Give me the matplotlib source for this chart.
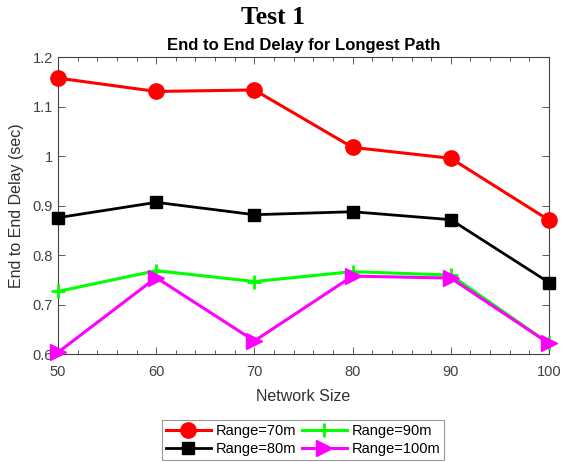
import matplotlib
matplotlib.use("Agg")
import matplotlib.pyplot as plt
from matplotlib.ticker import MultipleLocator

plt.rcParams['font.family'] = ['Liberation Sans', 'DejaVu Sans']

network_size = [50, 60, 70, 80, 90, 100]
range_70 = [1.158, 1.131, 1.134, 1.018, 0.996, 0.871]
range_80 = [0.876, 0.907, 0.882, 0.888, 0.872, 0.745]
range_90 = [0.727, 0.769, 0.747, 0.767, 0.760, 0.622]
range_100 = [0.604, 0.755, 0.627, 0.758, 0.754, 0.622]

fig = plt.figure(figsize=(5.63, 4.62), dpi=100)
ax = fig.add_axes([0.1030, 0.2331, 0.8721, 0.6429])

ax.plot(network_size, range_70, color='#ff0000', lw=2.2, marker='o', ms=11,
        label='Range=70m', clip_on=False, zorder=3)
ax.plot(network_size, range_80, color='black', lw=2.0, marker='s', ms=8,
        label='Range=80m', clip_on=False, zorder=3)
ax.plot(network_size, range_90, color='#00ff00', lw=2.2, marker='+', ms=10, mew=2,
        label='Range=90m', clip_on=False, zorder=3)
ax.plot(network_size, range_100, color='#ff00ff', lw=2.2, marker='>', ms=11,
        label='Range=100m', clip_on=False, zorder=4)

ax.set_xlim(50, 100)
ax.set_ylim(0.6, 1.2)
ax.set_xticks(network_size)
ax.set_yticks([0.6, 0.7, 0.8, 0.9, 1.0, 1.1, 1.2])
ax.set_yticklabels(['0.6', '0.7', '0.8', '0.9', '1', '1.1', '1.2'])
ax.xaxis.set_minor_locator(MultipleLocator(2))

grey = '#404040'
for s in ax.spines.values():
    s.set_color(grey)
    s.set_linewidth(0.8)
ax.tick_params(which='both', direction='in', top=True, right=True,
               colors=grey, labelsize=10.5)
ax.tick_params(which='major', length=5, width=0.6)
ax.tick_params(which='minor', length=3, width=0.6)
ax.tick_params(axis='x', which='major', pad=8)

ax.set_xlabel('Network Size', fontsize=11.5, color='#303030', labelpad=7)
ax.set_ylabel('End to End Delay (sec)', fontsize=11.5, color='#303030', labelpad=6)
ax.set_title('End to End Delay for Longest Path', fontsize=12, fontweight='bold',
             pad=5)

fig.text(0.485, 0.962, 'Test 1', family='Liberation Serif', fontweight='bold',
         fontsize=18.5, ha='center', va='center')

leg = fig.legend(loc='center', bbox_to_anchor=(0.538, 0.047), ncol=2,
                 fontsize=10.5, fancybox=False, handlelength=3.1,
                 columnspacing=0.4, handletextpad=0.3, labelspacing=0.3,
                 borderpad=0.25, borderaxespad=0)
leg.get_frame().set_edgecolor('#808080')
leg.get_frame().set_linewidth(0.8)

fig.savefig('out.png', dpi=100)
